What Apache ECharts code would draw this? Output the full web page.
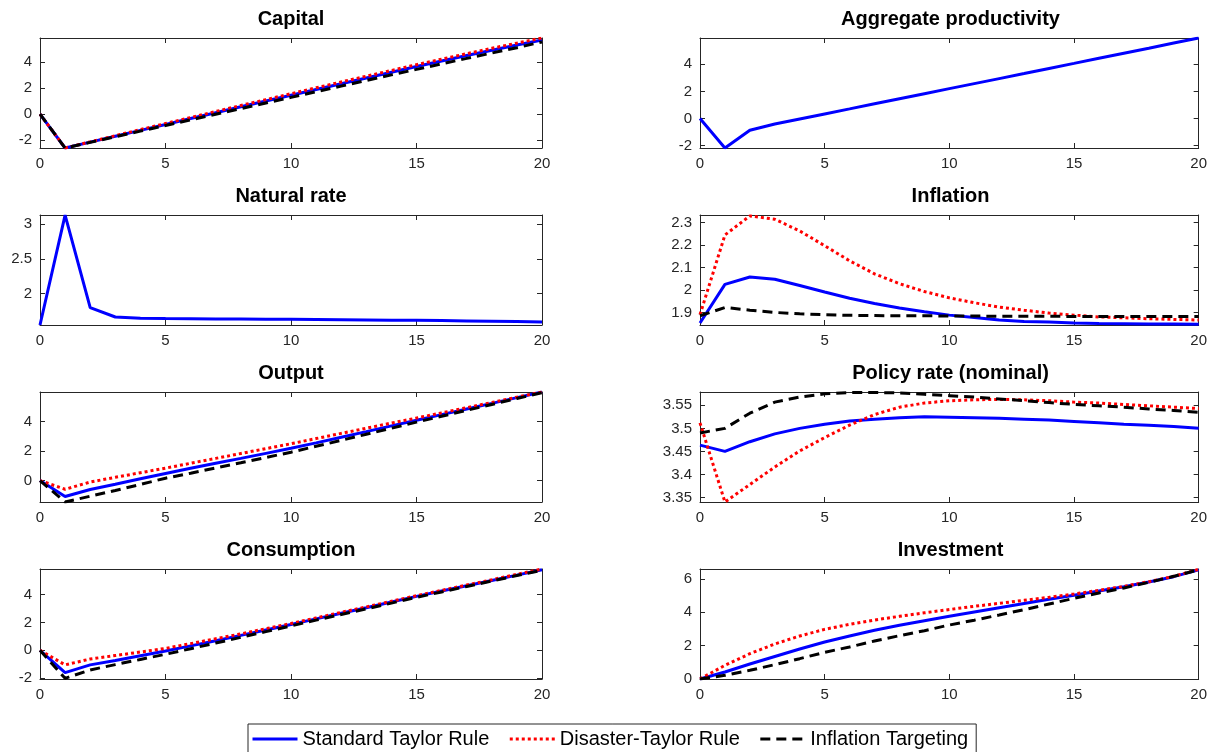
<!DOCTYPE html>
<html><head><meta charset="utf-8">
<script src="https://cdn.jsdelivr.net/npm/echarts@6/dist/echarts.min.js"></script>
<style>html,body{margin:0;padding:0;background:#fff}#c{width:1210px;height:752px}</style>
</head><body><div id="c"></div>
<script>
// ---------- data ----------
const steps = [0,1,2,3,4,5,6,7,8,9,10,11,12,13,14,15,16,17,18,19,20];
const seriesNames = ['Standard Taylor Rule','Disaster-Taylor Rule','Inflation Targeting'];
const panelTitles = ['Capital','Aggregate productivity','Natural rate','Inflation','Output','Policy rate (nominal)','Consumption','Investment'];
const xTicks = [0,5,10,15,20];

const capitalStd = [0,-2.59,-2.14,-1.69,-1.24,-0.79,-0.34,0.11,0.56,1.0,1.44,1.88,2.32,2.76,3.2,3.64,4.06,4.48,4.88,5.28,5.66];
const capitalDis = [0,-2.59,-2.12,-1.65,-1.18,-0.72,-0.26,0.2,0.66,1.11,1.56,2.01,2.46,2.9,3.34,3.78,4.2,4.62,5.03,5.43,5.82];
const capitalIT  = [0,-2.59,-2.16,-1.73,-1.3,-0.87,-0.44,-0.01,0.42,0.85,1.28,1.71,2.14,2.57,3.0,3.42,3.84,4.26,4.67,5.08,5.52];
const capitalTicks = [-2,0,2,4];

const prodStd = [0,-2.17,-0.86,-0.4,-0.03,0.34,0.71,1.09,1.46,1.83,2.2,2.57,2.94,3.31,3.69,4.06,4.44,4.81,5.18,5.56,5.93];
const prodTicks = [-2,0,2,4];

const naturalStd = [1.55,3.13,1.80,1.665,1.648,1.642,1.64,1.638,1.636,1.634,1.632,1.629,1.626,1.623,1.62,1.617,1.613,1.609,1.605,1.6,1.594];
const naturalTicks = [2,2.5,3];

const inflStd = [1.853,2.025,2.058,2.048,2.02,1.991,1.963,1.94,1.92,1.903,1.888,1.877,1.866,1.86,1.857,1.853,1.851,1.85,1.849,1.848,1.847];
const inflDis = [1.89,2.245,2.33,2.315,2.263,2.197,2.13,2.072,2.028,1.993,1.965,1.943,1.924,1.91,1.897,1.888,1.88,1.876,1.872,1.869,1.866];
const inflIT  = [1.885,1.922,1.91,1.9,1.894,1.89,1.887,1.886,1.885,1.885,1.884,1.884,1.883,1.883,1.883,1.882,1.882,1.882,1.882,1.882,1.882];
const inflTicks = [1.9,2,2.1,2.2,2.3];

const outputStd = [0,-1.08,-0.6,-0.25,0.12,0.48,0.83,1.17,1.5,1.84,2.18,2.55,2.93,3.31,3.7,4.08,4.46,4.84,5.22,5.61,5.99];
const outputDis = [0,-0.59,-0.1,0.22,0.53,0.84,1.17,1.5,1.83,2.16,2.49,2.84,3.19,3.54,3.89,4.23,4.58,4.93,5.28,5.64,5.99];
const outputIT  = [0,-1.45,-1.06,-0.67,-0.26,0.16,0.5,0.85,1.2,1.56,1.92,2.32,2.72,3.13,3.54,3.95,4.35,4.75,5.15,5.55,5.95];
const outputTicks = [0,2,4];

const policyStd = [3.4636,3.45,3.471,3.488,3.5,3.509,3.516,3.52,3.523,3.525,3.524,3.523,3.522,3.52,3.518,3.515,3.512,3.509,3.507,3.504,3.5];
const policyDis = [3.512,3.34,3.378,3.416,3.451,3.48,3.507,3.53,3.546,3.555,3.56,3.562,3.563,3.562,3.56,3.557,3.555,3.552,3.549,3.546,3.543];
const policyIT  = [3.49,3.5,3.533,3.557,3.568,3.575,3.578,3.578,3.577,3.574,3.571,3.568,3.564,3.56,3.556,3.552,3.549,3.546,3.542,3.539,3.535];
const policyTicks = [3.35,3.4,3.45,3.5,3.55];

const consStd = [0,-1.59,-1.04,-0.72,-0.38,-0.05,0.32,0.69,1.07,1.46,1.85,2.25,2.65,3.05,3.46,3.86,4.24,4.62,5.0,5.38,5.76];
const consDis = [0,-1.04,-0.62,-0.37,-0.12,0.14,0.48,0.83,1.18,1.55,1.92,2.32,2.72,3.11,3.51,3.91,4.29,4.67,5.05,5.44,5.82];
const consIT  = [0,-2.0,-1.4,-1.02,-0.65,-0.28,0.12,0.52,0.93,1.34,1.75,2.16,2.57,2.97,3.38,3.79,4.18,4.57,4.96,5.35,5.73];
const consTicks = [-2,0,2,4];

const invStd = [0,0.42,0.9,1.35,1.8,2.22,2.58,2.92,3.22,3.5,3.76,4.02,4.28,4.53,4.78,5.02,5.28,5.54,5.82,6.14,6.55];
const invDis = [0,0.82,1.52,2.1,2.58,2.98,3.28,3.54,3.76,3.97,4.17,4.36,4.54,4.72,4.9,5.1,5.32,5.56,5.84,6.16,6.58];
const invIT  = [0,0.22,0.52,0.86,1.22,1.6,1.92,2.28,2.6,2.9,3.24,3.53,3.84,4.16,4.5,4.84,5.16,5.46,5.8,6.16,6.55];
const invTicks = [0,2,4,6];

// ---------- panels ----------
const panels = [
  {lines:[capitalStd,capitalDis,capitalIT], min:-2.59, max:5.82, ticks:capitalTicks},
  {lines:[prodStd], min:-2.17, max:5.93, ticks:prodTicks},
  {lines:[naturalStd], min:1.55, max:3.133, ticks:naturalTicks},
  {lines:[inflStd,inflDis,inflIT], min:1.844, max:2.334, ticks:inflTicks},
  {lines:[outputStd,outputDis,outputIT], min:-1.45, max:5.99, ticks:outputTicks},
  {lines:[policyStd,policyDis,policyIT], min:3.34, max:3.579, ticks:policyTicks},
  {lines:[consStd,consDis,consIT], min:-2.05, max:5.82, ticks:consTicks},
  {lines:[invStd,invDis,invIT], min:0, max:6.6, ticks:invTicks}
];

const colLeft = [40, 700], colWidth = [502, 501];
const rowTop = [38, 215, 392, 569], plotH = 110;
const axisColor = '#262626';
const FONT = 'Liberation Sans, Arial, Helvetica, sans-serif';
const lineStyles = [
  {color:'#0000ff', type:'solid'},
  {color:'#ff0000', type:[3,3]},
  {color:'#000000', type:[10,6]}
];

const grid = [], xAxis = [], yAxis = [], series = [], graphic = [];
panels.forEach((p, i) => {
  const col = i % 2, row = Math.floor(i / 2);
  grid.push({left: colLeft[col], top: rowTop[row], width: colWidth[col], height: plotH, containLabel: false});
  const common = {
    gridIndex: i, type: 'value',
    axisLine: {show: true, onZero: false, lineStyle: {color: axisColor, width: 1}},
    axisTick: {show: true, inside: true, length: 5, lineStyle: {color: axisColor}},
    splitLine: {show: false}
  };
  xAxis.push(Object.assign({}, common, {position: 'bottom', min: 0, max: 20, interval: 5,
    axisLabel: {show: true, margin: 8, color: axisColor, fontSize: 15, fontFamily: FONT}}));
  xAxis.push(Object.assign({}, common, {position: 'top', min: 0, max: 20, interval: 5,
    axisLabel: {show: false}}));
  yAxis.push(Object.assign({}, common, {position: 'left', min: p.min, max: p.max,
    axisTick: Object.assign({}, common.axisTick, {customValues: p.ticks}),
    axisLabel: {show: true, margin: 8, color: axisColor, fontSize: 15, fontFamily: FONT, customValues: p.ticks}}));
  yAxis.push(Object.assign({}, common, {position: 'right', min: p.min, max: p.max,
    axisTick: Object.assign({}, common.axisTick, {customValues: p.ticks}),
    axisLabel: {show: false, customValues: p.ticks}}));
  p.lines.forEach((vals, k) => {
    series.push({
      name: seriesNames[k], type: 'line', xAxisIndex: 2*i, yAxisIndex: 2*i,
      data: vals.map((v, j) => [steps[j], v]),
      symbol: 'none', showSymbol: false, smooth: false, silent: true,
      lineStyle: {color: lineStyles[k].color, type: lineStyles[k].type, width: 3},
      itemStyle: {color: lineStyles[k].color}
    });
  });
  graphic.push({type: 'text', x: colLeft[col] + colWidth[col]/2, y: rowTop[row] - 19,
    style: {text: panelTitles[i], fill: '#000', font: 'bold 20px ' + FONT, textAlign: 'center', textVerticalAlign: 'middle'}});
});

const chart = echarts.init(document.getElementById('c'), null, {renderer: 'canvas'});
chart.setOption({
  animation: false,
  backgroundColor: '#fff',
  grid, xAxis, yAxis, series, graphic,
  legend: {
    data: seriesNames, left: 248, top: 724,
    padding: [5, 8, 6, 3], itemGap: 19, itemWidth: 45, itemHeight: 14,
    borderColor: axisColor, borderWidth: 1, backgroundColor: '#fff',
    itemStyle: {opacity: 0, borderWidth: 0},
    lineStyle: {width: 3},
    textStyle: {fontSize: 20, color: '#000', fontFamily: FONT},
    selectedMode: false
  }
});
</script></body></html>
